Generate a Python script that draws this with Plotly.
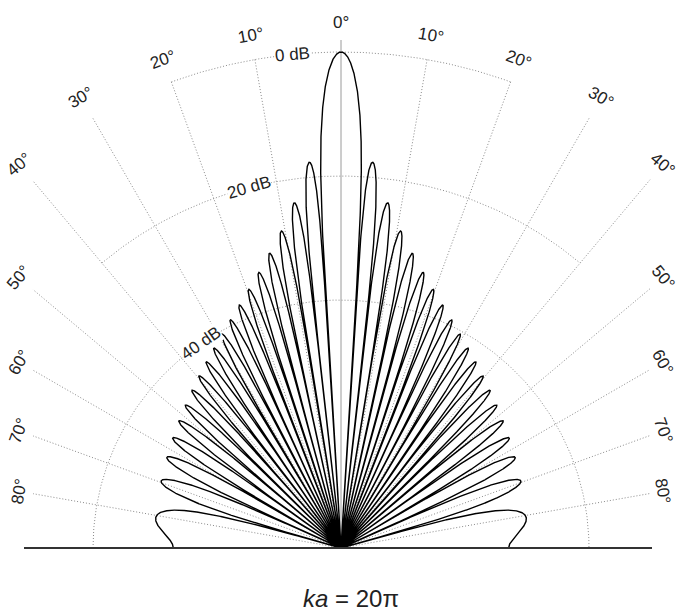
import numpy as np
import plotly.graph_objects as go

# ---- chart content -------------------------------------------------------
KA = 20 * np.pi                       # ka = 20π (circular piston)
DB_RANGE = 80                         # centre of the chart = -80 dB
ANGLE_TICKS = [10, 20, 30, 40, 50, 60, 70, 80]
RING_DB = [0, 20, 40]                 # dB rings drawn
RING_SPAN = [20, 40, 90]              # half-angle over which each ring is drawn
RING_LABELS = ["0 dB", "20 dB", "40 dB"]
RING_LABEL_ANGLE = [-5.6, -14.3, -34.5]
RING_LABEL_ROT = [-5, -16, -35]
TITLE = "<i>ka</i> = 20π"

# ---- geometry (pixels -> data units) ------------------------------------
PX = 6.2                              # pixels per dB-unit of radius
CX, CY, W, H = 341, 548, 681, 611
XCLIP_L, XCLIP_R = 308 / PX, 309 / PX
LABEL_R = 520 / PX
LABEL_XMAX = 322 / PX


def bessel_j(n, x):
    tau = np.linspace(0, 2 * np.pi, 256, endpoint=False)
    return np.cos(n * tau[None, :] - x[:, None] * np.sin(tau[None, :])).mean(axis=1)


# directivity of a baffled circular piston, 2 J1(ka sinθ)/(ka sinθ)
th = np.linspace(-90, 90, 18001)
u = KA * np.sin(np.radians(th))
D = np.ones_like(u)
nz = np.abs(u) > 1e-9
D[nz] = 2 * bessel_j(1, u[nz]) / u[nz]
s = np.sign(D)
idx = np.where(s[:-1] * s[1:] < 0)[0]
th_null = th[idx] - D[idx] * (th[idx + 1] - th[idx]) / (D[idx + 1] - D[idx])
db = 20 * np.log10(np.maximum(np.abs(D), 1e-12))
r = np.clip(db + DB_RANGE, 0, None)
th_all = np.concatenate([th, th_null])
r_all = np.concatenate([r, np.zeros_like(th_null)])
order = np.argsort(th_all)
th_all, r_all = th_all[order], r_all[order]
px_ = r_all * np.sin(np.radians(th_all))
py_ = r_all * np.cos(np.radians(th_all))

fig = go.Figure()
GRID = dict(color="#8a8a8a", width=1, dash="1px,2px")

# rings
for dbv, span in zip(RING_DB, RING_SPAN):
    a = np.radians(np.linspace(-span, span, 400))
    rr = DB_RANGE - dbv
    fig.add_trace(go.Scatter(x=rr * np.sin(a), y=rr * np.cos(a), mode="lines",
                             line=GRID, hoverinfo="skip", showlegend=False))

# radial lines
for ang in ANGLE_TICKS:
    for sgn in (-1, 1):
        a = np.radians(sgn * ang)
        clip = XCLIP_R if sgn > 0 else XCLIP_L
        r_end = min(DB_RANGE, clip / abs(np.sin(a)))
        fig.add_trace(go.Scatter(x=[0, r_end * np.sin(a)], y=[0, r_end * np.cos(a)],
                                 mode="lines", line=GRID, hoverinfo="skip",
                                 showlegend=False))

# 0° axis
fig.add_trace(go.Scatter(x=[0, 0], y=[0, (CY - 40) / PX], mode="lines",
                         line=dict(color="#9a9a9a", width=1), hoverinfo="skip",
                         showlegend=False))

# pattern
fig.add_trace(go.Scatter(x=px_, y=py_, mode="lines",
                         line=dict(color="black", width=1.4), hoverinfo="skip",
                         showlegend=False))

# baseline
fig.add_trace(go.Scatter(x=[-317 / PX, 311 / PX], y=[0, 0], mode="lines",
                         line=dict(color="#333333", width=2.2), hoverinfo="skip",
                         showlegend=False))

FONT = "Liberation Sans, Arial, sans-serif"
ann = []
ann.append(dict(x=0, y=(CY - 22) / PX, text="0°", showarrow=False,
                font=dict(size=17, color="#222", family=FONT)))
for ang in ANGLE_TICKS:
    for sgn in (-1, 1):
        a = np.radians(sgn * ang)
        rl = min(LABEL_R, LABEL_XMAX / abs(np.sin(a)))
        ann.append(dict(x=rl * np.sin(a), y=rl * np.cos(a), text=f"{ang}°",
                        showarrow=False, textangle=sgn * ang,
                        xanchor="center", yanchor="middle",
                        font=dict(size=17, color="#222", family=FONT)))
for dbv, lab, la, rot in zip(RING_DB, RING_LABELS, RING_LABEL_ANGLE, RING_LABEL_ROT):
    rr = DB_RANGE - dbv
    a = np.radians(la)
    ann.append(dict(x=rr * np.sin(a), y=rr * np.cos(a), text=lab, showarrow=False,
                    textangle=rot, bgcolor="white", borderpad=0,
                    font=dict(size=17, color="#222", family=FONT)))
ann.append(dict(x=(351 - CX) / PX, y=(CY - 598) / PX, text=TITLE, showarrow=False,
                font=dict(size=24, color="#222", family=FONT)))

fig.update_layout(
    width=W, height=H, margin=dict(l=0, r=0, t=0, b=0),
    paper_bgcolor="white", plot_bgcolor="white",
    xaxis=dict(range=[-CX / PX, (W - CX) / PX], visible=False, fixedrange=True),
    yaxis=dict(range=[(CY - H) / PX, CY / PX], visible=False, fixedrange=True),
    annotations=ann, showlegend=False,
)
fig.write_html("out.html", config={"displayModeBar": False},
               post_script="document.body.style.margin='0';"
                           "document.body.style.overflow='hidden';")
